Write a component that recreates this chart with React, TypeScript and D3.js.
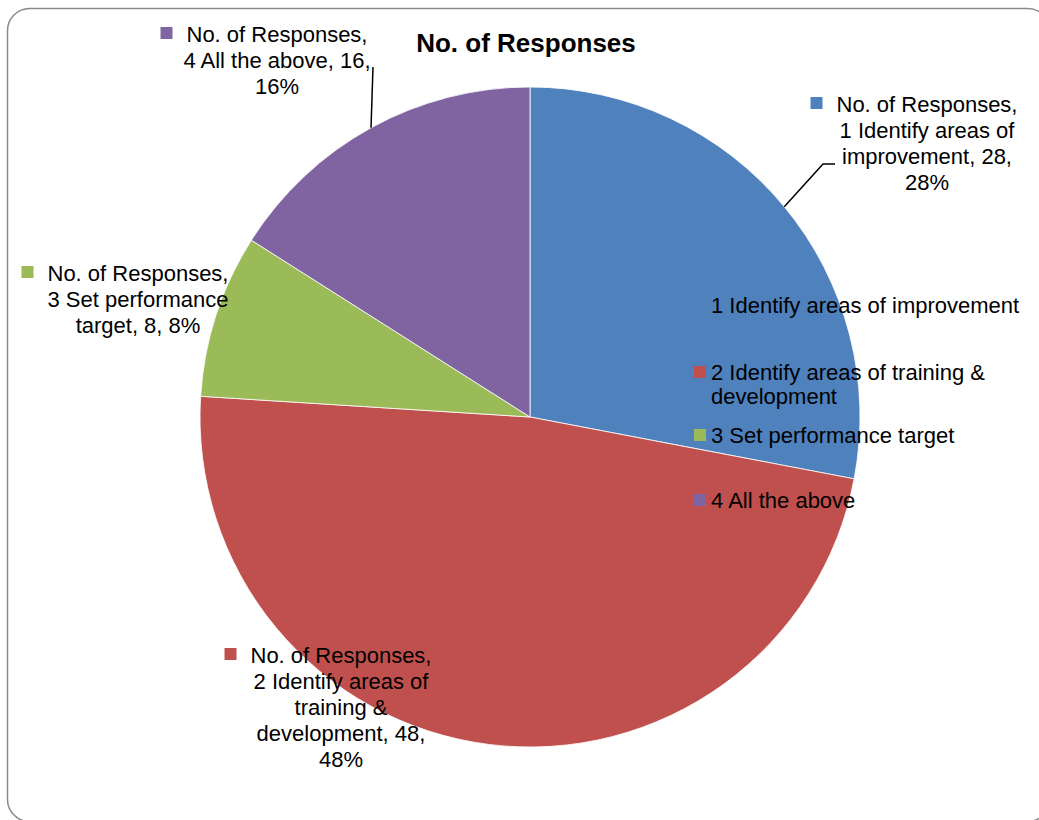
import React, { useMemo } from "react"
import * as d3 from "d3"

// chart data
const seriesName = "No. of Responses"
const categories = [
  "1 Identify areas of improvement",
  "2 Identify areas of training & development",
  "3 Set performance target",
  "4 All the above",
]
const values = [28, 48, 8, 16]
const colors = ["#4F81BD", "#C0504D", "#9BBB59", "#8064A2"]

// layout
const W = 1039
const H = 820
const cx = 530
const cy = 417
const radius = 330
const labelFont = 22
const fontFamily = "'Liberation Sans', Arial, sans-serif"
const lineH = 26

// label placement (Excel labels were dragged by hand)
const labelPos = [
  { x: 927, y: 112, leader: [[823, 164], [835, 164]] },
  { x: 341, y: 663, leader: null },
  { x: 138, y: 281, leader: null },
  { x: 277, y: 42, leader: [[373, 67]] },
]

const measure = (() => {
  const ctx = document.createElement("canvas").getContext("2d")!
  return (s: string, size: number) => {
    ctx.font = `${size}px ${fontFamily}`
    return ctx.measureText(s).width
  }
})()

function wrap(text: string, maxW: number, size: number): string[] {
  const words = text.split(" ")
  const lines: string[] = []
  let cur = ""
  words.forEach((w) => {
    const test = cur ? cur + " " + w : w
    if (cur && measure(test, size) > maxW) {
      lines.push(cur)
      cur = w
    } else cur = test
  })
  if (cur) lines.push(cur)
  return lines
}

const App: React.FC = () => {
  const total = d3.sum(values)
  const arcs = useMemo(() => d3.pie<number>().sort(null).value((d) => d)(values), [])
  const arc = d3.arc<d3.PieArcDatum<number>>().innerRadius(0).outerRadius(radius)

  return (
    <svg
      width={W}
      height={H}
      style={{ position: "absolute", left: 0, top: 0, background: "#fff" }}
      fontFamily={fontFamily}
    >
      <rect x={7.5} y={8.5} width={1042} height={813} rx={22} fill="#fff" stroke="#8a8a8a" strokeWidth={1.5} />

      <text x={526} y={52} textAnchor="middle" fontSize={26} fontWeight="bold" fill="#000">
        {seriesName}
      </text>

      <g transform={`translate(${cx},${cy})`}>
        {arcs.map((a, i) => (
          <path key={i} d={arc(a) ?? ""} fill={colors[i]} stroke="#fff" strokeWidth={0.8} />
        ))}
      </g>

      {/* data labels */}
      {arcs.map((a, i) => {
        const pos = labelPos[i]
        const pct = Math.round((values[i] / total) * 100)
        const lines = [`${seriesName},`, ...wrap(`${categories[i]}, ${values[i]}, ${pct}%`, 200, labelFont)]
        const firstW = measure(lines[0], labelFont)
        const mid = (a.startAngle + a.endAngle) / 2
        const edge: [number, number] = [cx + radius * Math.sin(mid), cy - radius * Math.cos(mid)]
        return (
          <g key={i}>
            {pos.leader && (
              <path
                d={d3.line()([edge, ...(pos.leader as [number, number][])]) ?? ""}
                fill="none"
                stroke="#000"
                strokeWidth={1.5}
              />
            )}
            <rect x={pos.x - firstW / 2 - 26} y={pos.y - 15} width={12} height={12} fill={colors[i]} />
            <text textAnchor="middle" fontSize={labelFont} fill="#000">
              {lines.map((l, j) => (
                <tspan key={j} x={pos.x} y={pos.y + j * lineH}>
                  {l}
                </tspan>
              ))}
            </text>
          </g>
        )
      })}

      {/* legend */}
      <g>
        {categories.map((c, i) => {
          const y = 313 + i * 65 + (i === 1 ? 2 : 0)
          const lines = wrap(c, 318, labelFont)
          return (
            <g key={c}>
              <rect x={694} y={y - 14} width={12} height={12} fill={colors[i]} />
              <text fontSize={labelFont} fill="#000">
                {lines.map((l, j) => (
                  <tspan key={j} x={711} y={y + j * 24}>
                    {l}
                  </tspan>
                ))}
              </text>
            </g>
          )
        })}
      </g>
    </svg>
  )
}

export default App
